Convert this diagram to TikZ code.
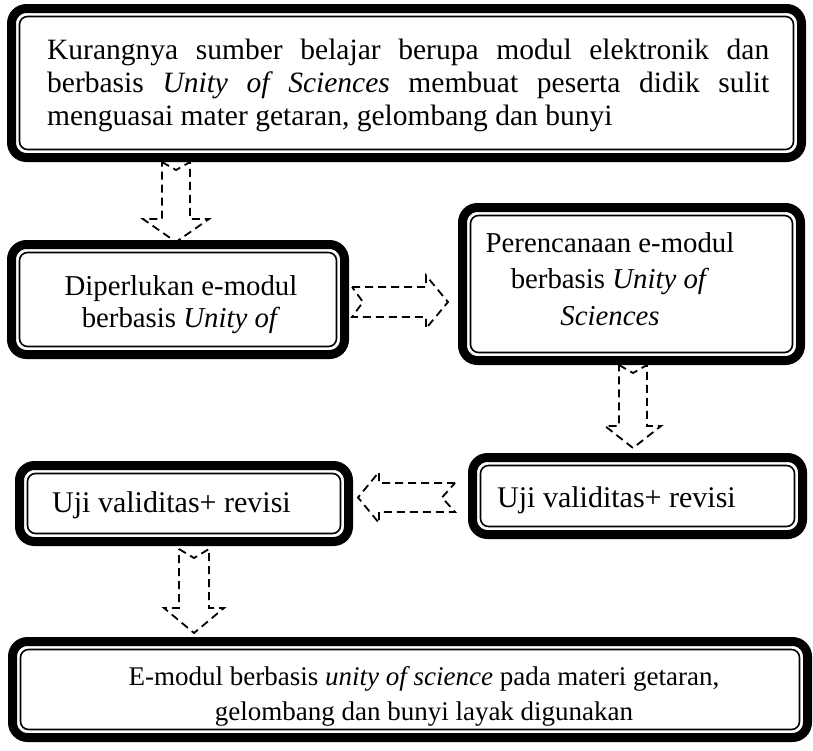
\documentclass[tikz,border=0pt]{standalone}
\usepackage{fontspec}
\setmainfont{Liberation Serif}
\newcommand{\dnarrow}[7]{\draw[blk] (#1-#2,#3) -- (#1,#3+#4) -- (#1+#2,#3) -- (#1+#2,#5) -- (#1+#6,#5) -- (#1,#7) -- (#1-#6,#5) -- (#1-#2,#5) -- cycle;}
\newcommand{\sdarrow}[7]{\draw[blk] (#3,#1-#2) -- (#5,#1-#2) -- (#5,#1-#6) -- (#7,#1) -- (#5,#1+#6) -- (#5,#1+#2) -- (#3,#1+#2) -- (#3+#4,#1) -- cycle;}
\begin{document}
\begin{tikzpicture}[x=1pt,y=-1pt,
  frame/.style={draw, line width=9pt, rounded corners=15pt, inner sep=0pt, outer sep=0pt},
  innerframe/.style={draw, line width=1.6pt, rounded corners=8pt},
  blk/.style={draw, line width=1.8pt, dash pattern=on 8pt off 5pt, line join=miter},
  txt/.style={inner sep=0pt}]
\useasboundingbox (0,0) rectangle (813,750);
% boxes (outer edge minus half stroke)
\node[frame, minimum width=790pt, minimum height=149pt] (b1) at (406.5,83) {};
\node[frame, minimum width=333pt, minimum height=110pt] (b2) at (178,299.5) {};
\node[frame, minimum width=338pt, minimum height=153pt] (b3) at (631.5,284) {};
\node[frame, minimum width=329pt, minimum height=76pt] (b4) at (184,503.5) {};
\node[frame, minimum width=330pt, minimum height=77pt] (b5) at (637.5,496) {};
\node[frame, minimum width=795pt, minimum height=96pt] (b6) at (410,689.5) {};
\foreach \n in {b1,b2,b3,b4,b5,b6}
  \draw[innerframe] ([shift={(8pt,-8pt)}]\n.north west) rectangle ([shift={(-8pt,8pt)}]\n.south east);
% texts (base anchor: first line for t1, last line for centred nodes)
\node[txt, anchor=base west, text width=722pt, align=justify, font=\fontsize{29.5}{33}\selectfont] (t1) at (47,59)
  {Kurangnya sumber belajar berupa modul elektronik dan\linebreak berbasis \textit{Unity of Sciences} membuat peserta didik sulit\linebreak menguasai mater getaran, gelombang dan bunyi};
\node[txt, anchor=base, align=center, font=\fontsize{28.8}{32}\selectfont] (t2) at (181,327) {Diperlukan e-modul\\berbasis \textit{Unity of}};
\node[txt, anchor=base, align=center, font=\fontsize{28.8}{36.5}\selectfont] (t3) at (610,325) {Perencanaan e-modul\\berbasis \textit{Unity of}\\\textit{Sciences}};
\node[txt, anchor=base west, font=\fontsize{30}{36}\selectfont] (t4) at (52,512) {Uji validitas+ revisi};
\node[txt, anchor=base west, font=\fontsize{30}{36}\selectfont] (t5) at (497,507) {Uji validitas+ revisi};
\node[txt, anchor=base, align=center, font=\fontsize{27}{35}\selectfont] (t6) at (424,720) {E-modul berbasis \textit{unity of science} pada materi getaran,\\gelombang dan bunyi layak digunakan};
% dashed block arrows
\dnarrow{176}{14}{162}{8}{219}{33}{242}
\dnarrow{633}{14}{365}{8}{426}{28}{448}
\dnarrow{194}{15}{549}{9}{608}{30}{633}
\sdarrow{302}{15}{352}{11}{426}{26.5}{448}
\sdarrow{497.5}{14.5}{455}{-13}{379}{25.5}{358}
\end{tikzpicture}
\end{document}
